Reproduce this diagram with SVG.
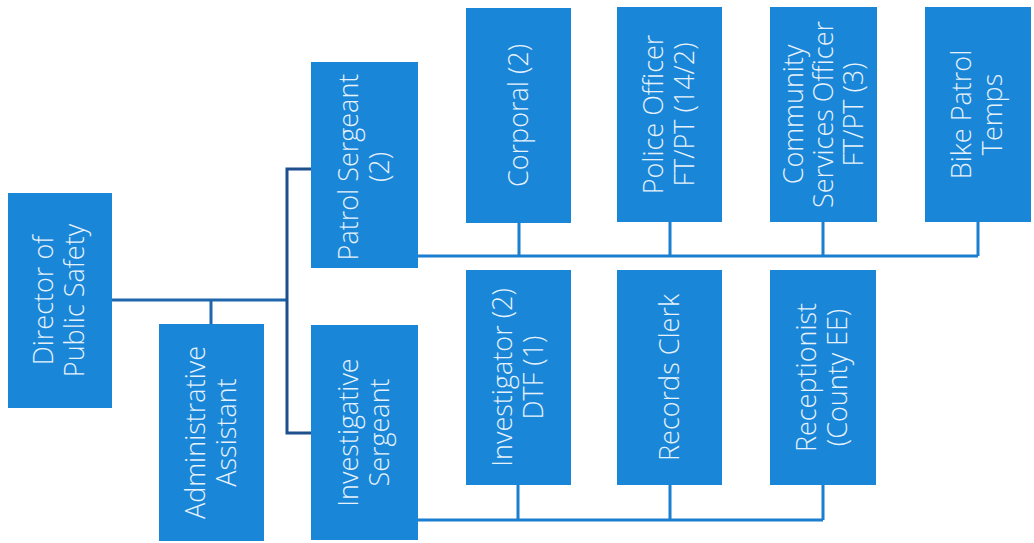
<svg xmlns="http://www.w3.org/2000/svg" width="1034" height="543" viewBox="0 0 1034 543">
<style>
.box{fill:#1a86d8;}
.lbl{font-family:"Open Sans","Liberation Sans",sans-serif;font-size:27px;font-weight:300;fill:#e6f2fb;text-anchor:middle;}
.bus{fill:none;stroke:#1a7fd0;stroke-width:3;}
.dark{fill:none;stroke:#1d4f8c;stroke-width:3;}
.mid{fill:none;stroke:#1f66ad;stroke-width:3;}
</style>
<rect width="1034" height="543" fill="#ffffff"/>
<g id="connectors">
<path class="mid" d="M112 300 H287"/>
<path class="mid" d="M211 300 V324"/>
<path class="dark" d="M311 169 H287 V433 H311"/>
<path class="bus" d="M418 256 H978"/>
<path class="bus" d="M519 223 V256 M670 222 V256 M823 222 V256 M978 222 V256"/>
<path class="bus" d="M418 520 H823"/>
<path class="bus" d="M518 485 V520 M670 485 V520 M823 485 V520"/>
</g>
<g id="director"><rect class="box" x="8" y="193" width="104" height="215"/>
<g transform="translate(60,300.5) rotate(-90)"><text class="lbl" y="-7">Director of</text><text class="lbl" y="24">Public Safety</text></g></g>
<g id="admin"><rect class="box" x="159" y="324" width="105" height="217"/>
<g transform="translate(211.5,432.5) rotate(-90)"><text class="lbl" y="-7">Administrative</text><text class="lbl" y="24">Assistant</text></g></g>
<g id="patrol-sergeant"><rect class="box" x="311" y="62" width="107" height="206"/>
<g transform="translate(364.5,167) rotate(-90)"><text class="lbl" y="-7">Patrol Sergeant</text><text class="lbl" y="24">(2)</text></g></g>
<g id="investigative-sergeant"><rect class="box" x="311" y="325" width="107" height="215"/>
<g transform="translate(364.5,432.5) rotate(-90)"><text class="lbl" y="-7">Investigative</text><text class="lbl" y="24">Sergeant</text></g></g>
<g id="corporal"><rect class="box" x="466" y="8" width="105" height="215"/>
<g transform="translate(518.5,115.5) rotate(-90)"><text class="lbl" y="9">Corporal (2)</text></g></g>
<g id="police-officer"><rect class="box" x="617" y="7" width="105" height="215"/>
<g transform="translate(669.5,114.5) rotate(-90)"><text class="lbl" y="-7">Police Officer</text><text class="lbl" y="24">FT/PT (14/2)</text></g></g>
<g id="community-services"><rect class="box" x="770" y="7" width="107" height="215"/>
<g transform="translate(823.5,114.5) rotate(-90)"><text class="lbl" y="-21">Community</text><text class="lbl" y="9">Services Officer</text><text class="lbl" y="39">FT/PT (3)</text></g></g>
<g id="bike-patrol"><rect class="box" x="925" y="7" width="106" height="215"/>
<g transform="translate(978,114.5) rotate(-90)"><text class="lbl" y="-7">Bike Patrol</text><text class="lbl" y="24">Temps</text></g></g>
<g id="investigator"><rect class="box" x="466" y="270" width="105" height="215"/>
<g transform="translate(518.5,377.5) rotate(-90)"><text class="lbl" y="-7">Investigator (2)</text><text class="lbl" y="24">DTF (1)</text></g></g>
<g id="records-clerk"><rect class="box" x="617" y="270" width="105" height="215"/>
<g transform="translate(669.5,377.5) rotate(-90)"><text class="lbl" y="9">Records Clerk</text></g></g>
<g id="receptionist"><rect class="box" x="770" y="270" width="106" height="215"/>
<g transform="translate(823,377.5) rotate(-90)"><text class="lbl" y="-7">Receptionist</text><text class="lbl" y="24">(County EE)</text></g></g>
</svg>
